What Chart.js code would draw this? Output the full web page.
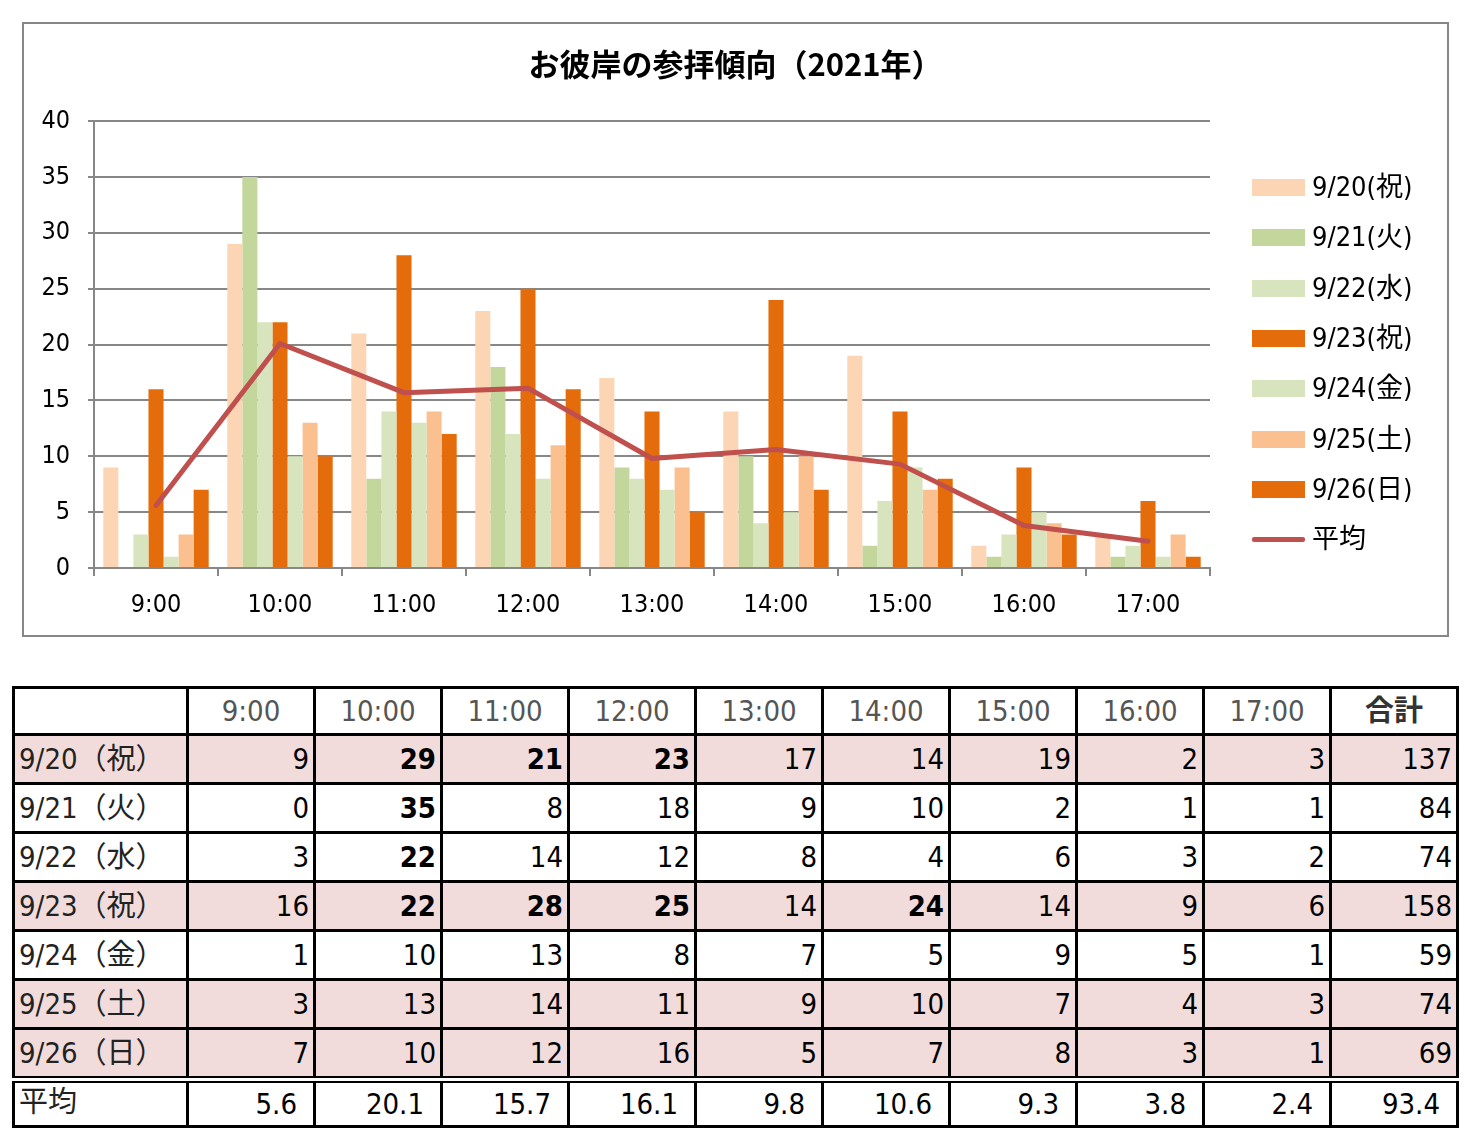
<!DOCTYPE html>
<html>
<head>
<meta charset="utf-8">
<script src="https://cdn.jsdelivr.net/npm/chart.js@4.4.1/dist/chart.umd.min.js"></script>
<style>
  html, body { margin:0; padding:0; background:#fff; }
  body { width:1477px; height:1142px; position:relative; overflow:hidden;
         font-family:'Liberation Sans Narrow','DejaVu Sans Condensed','Noto Sans CJK JP',sans-serif; }
  #box { position:absolute; left:22px; top:22px; width:1423px; height:611px; border:2px solid #878787; }
  #legend { position:absolute; left:1252px; top:0; }
  .lg { position:absolute; left:0; width:240px; height:30px; }
  .lg .sw { position:absolute; left:0; width:53px; height:17px; top:6px; }
  .lg .ln { position:absolute; left:0; width:53px; height:5px; top:12px; border-radius:2px; }
  .lg .tx { position:absolute; left:60px; top:-1px; font-size:27px; line-height:30px; color:#000; white-space:nowrap; }
  table { position:absolute; left:12px; top:686px; border-collapse:collapse; table-layout:fixed; }
  td { border:3px solid #000; height:46px; padding:0 4px 0 4px; font-size:29px; line-height:46px; text-align:right; color:#000; overflow:hidden; white-space:nowrap; }
  td.lab { text-align:left; color:#222; padding-left:4px; }
  tr.hd td { text-align:center; color:#555; height:44px; line-height:44px; }
  tr.hd td.sum { font-weight:bold; color:#333; }
  tr.pink td { background:#F2DCDB; }
  tr.avg td { border-top:7px double #000; padding-right:16px; height:42px; line-height:42px; }
  tr.avg td.lab { vertical-align:top; line-height:38px; }
  td.b { font-weight:bold; }
</style>
</head>
<body>
<div id="box"><canvas id="c" width="1423" height="611"></canvas></div>
<div id="legend"></div>
<table id="tbl"></table>
<script>
const hours = ['9:00','10:00','11:00','12:00','13:00','14:00','15:00','16:00','17:00'];
const dayLabels = ['9/20(祝)','9/21(火)','9/22(水)','9/23(祝)','9/24(金)','9/25(土)','9/26(日)'];
const tableDayLabels = ['9/20（祝）','9/21（火）','9/22（水）','9/23（祝）','9/24（金）','9/25（土）','9/26（日）'];
const d0920 = [9,29,21,23,17,14,19,2,3];
const d0921 = [0,35,8,18,9,10,2,1,1];
const d0922 = [3,22,14,12,8,4,6,3,2];
const d0923 = [16,22,28,25,14,24,14,9,6];
const d0924 = [1,10,13,8,7,5,9,5,1];
const d0925 = [3,13,14,11,9,10,7,4,3];
const d0926 = [7,10,12,16,5,7,8,3,1];
const average = [5.6,20.1,15.7,16.1,9.8,10.6,9.3,3.8,2.4];
const totals = [137,84,74,158,59,74,69];
const averageTotal = 93.4;
const avgLabel = '平均';
const totalLabel = '合計';
const titleText = 'お彼岸の参拝傾向（2021年）';

const series = [d0920,d0921,d0922,d0923,d0924,d0925,d0926];
const colors = ['#FCD5B5','#C3D69B','#D7E4BD','#E46C0A','#D7E4BD','#FAC090','#E46C0A'];
const lineColor = '#C0504D';
const pinkRows = [0,3,5,6];

const datasets = [{
  type:'line', label:avgLabel, data:average, borderColor:lineColor, backgroundColor:lineColor,
  borderWidth:5, pointRadius:0, tension:0, order:0, borderJoinStyle:'round', borderCapStyle:'round'
}];
series.forEach((s,i)=>datasets.push({
  type:'bar', label:dayLabels[i], data:s, backgroundColor:colors[i], borderWidth:0,
  categoryPercentage:0.85, barPercentage:1.0, order:1
}));

const tickFont = { family:"'Liberation Sans Narrow','DejaVu Sans Condensed',sans-serif", size:25 };

new Chart(document.getElementById('c'), {
  data:{ labels:hours, datasets },
  options:{
    responsive:false, animation:false, devicePixelRatio:1,
    layout:{ padding:0 },
    plugins:{
      legend:{ display:false }, tooltip:{ enabled:false },
      title:{ display:true, text:titleText, color:'#000',
        font:{ family:"'Noto Sans CJK JP',sans-serif", size:31, weight:'bold' },
        padding:{ top:22, bottom:38 } }
    },
    scales:{
      x:{
        offset:true,
        grid:{ offset:true, drawOnChartArea:false, drawTicks:true, tickLength:8, color:'#878787', lineWidth:2 },
        border:{ color:'#878787', width:2 },
        ticks:{ color:'#000', padding:14, font:tickFont },
        afterFit(s){ s.height = 67; }
      },
      y:{
        min:0, max:40,
        ticks:{ stepSize:5, color:'#000', padding:18, font:tickFont },
        grid:{ color:'#878787', lineWidth:2, tickLength:6 },
        border:{ color:'#878787', width:2 },
        afterFit(s){ s.width = 70; }
      },
      legendSpace:{
        type:'linear', position:'right', display:true,
        grid:{ display:false }, border:{ display:false }, ticks:{ display:false },
        afterFit(s){ s.width = 237; }
      }
    }
  }
});

// legend
const lg = document.getElementById('legend');
const entries = dayLabels.map((l,i)=>({label:l, color:colors[i], line:false}));
entries.push({label:avgLabel, color:lineColor, line:true});
entries.forEach((e,i)=>{
  const d = document.createElement('div');
  d.className='lg';
  d.style.top = (173 + i*50.3) + 'px';
  d.innerHTML = '<div class="'+(e.line?'ln':'sw')+'" style="background:'+e.color+'"></div><div class="tx">'+e.label+'</div>';
  lg.appendChild(d);
});

// table
const tbl = document.getElementById('tbl');
let html = '<colgroup><col style="width:174px">';
for (let i=0;i<10;i++) html += '<col style="width:127px">';
html += '</colgroup>';
html += '<tr class="hd"><td class="lab"></td>' + hours.map(h=>'<td>'+h+'</td>').join('') + '<td class="sum">'+totalLabel+'</td></tr>';
series.forEach((s,i)=>{
  html += '<tr class="'+(pinkRows.includes(i)?'pink':'')+'"><td class="lab">'+tableDayLabels[i]+'</td>';
  s.forEach(v=>{ html += '<td class="'+(v>=20?'b':'')+'">'+v+'</td>'; });
  html += '<td>'+totals[i]+'</td></tr>';
});
html += '<tr class="avg"><td class="lab">'+avgLabel+'</td>' + average.map(v=>'<td>'+v.toFixed(1)+'</td>').join('') + '<td>'+averageTotal.toFixed(1)+'</td></tr>';
tbl.innerHTML = html;
</script>
</body>
</html>
